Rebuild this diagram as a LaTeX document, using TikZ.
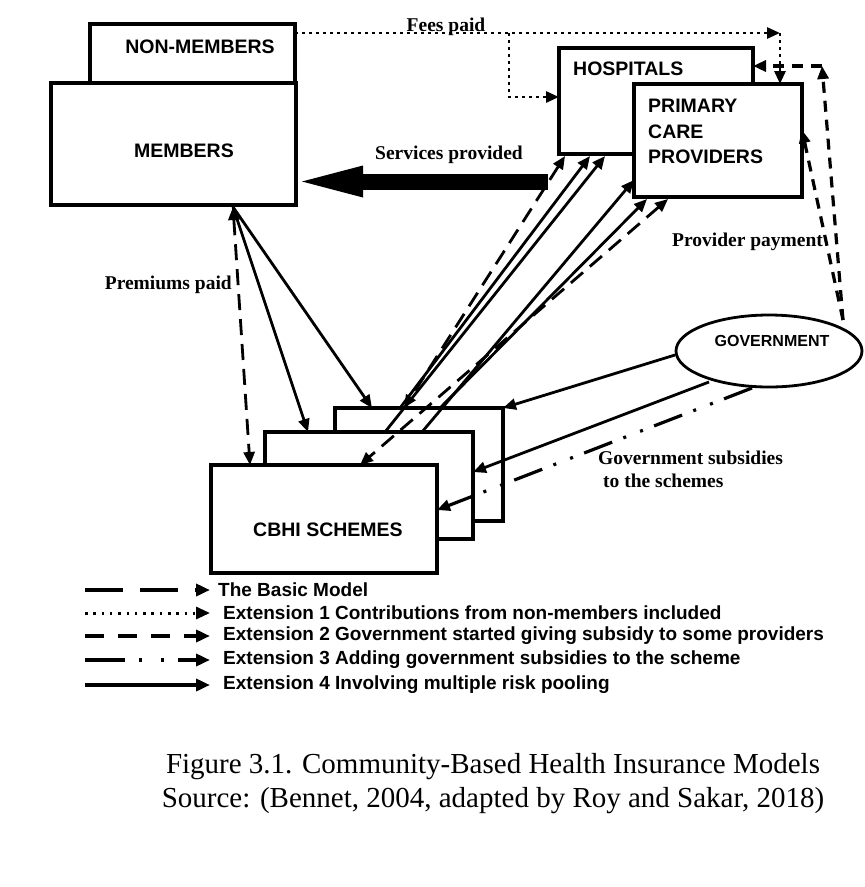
\documentclass[tikz,border=0pt]{standalone}
\usepackage{fontspec}
\setmainfont{Liberation Serif}
\setsansfont{Liberation Sans}
\usetikzlibrary{positioning}
\usetikzlibrary{calc,arrows.meta}
\usetikzlibrary{shapes.geometric}

\tikzset{
	box/.style={draw, line width=3.2pt, fill=white, inner sep=0pt},
	boxlabel/.style={font=\sffamily\bfseries\fontsize{19.5}{25.5}\selectfont, inner sep=0pt},
	flowlabel/.style={font=\bfseries\fontsize{19.5}{23}\selectfont, inner sep=0pt},
	keylabel/.style={font=\sffamily\bfseries\fontsize{19}{22}\selectfont, inner sep=0pt, anchor=west},
	captext/.style={font=\fontsize{29}{34}\selectfont, inner sep=0pt},
	tip/.style={-{Triangle[length=13pt,width=11pt]}},
	tips/.style={{Triangle[length=13pt,width=11pt]}-{Triangle[length=13pt,width=11pt]}},
	keytip/.style={-{Triangle[length=14pt,width=12pt]}},
	basic/.style={line width=2.8pt, dash pattern=on 16pt off 9pt},
	extone/.style={line width=2.8pt, dash pattern=on 2.5pt off 4.5pt},
	exttwo/.style={line width=3.2pt, dash pattern=on 11pt off 8pt},
	extthree/.style={line width=3.2pt, dash pattern=on 30pt off 12pt on 3pt off 15pt on 3pt off 12pt},
	extfour/.style={line width=2.8pt},
}

\begin{document}
\begin{tikzpicture}[x=1pt, y=-1pt]
	\useasboundingbox (0,0) rectangle (865,887);
	
	% ---------------------
	% Members & non-members
	\node[box, minimum width=205pt, minimum height=59pt] (NonMembers) at (192.5,53.5) {};
	\node[boxlabel] (NonMembersText) at (200,47) {NON-MEMBERS};
	\node[box, minimum width=245pt, minimum height=122pt] (Members) at (173.5,144) {};
	\node[boxlabel] (MembersText) at (184,151) {MEMBERS};
	
	% ---------------------
	% Providers
	\node[box, minimum width=194pt, minimum height=106pt] (Hospitals) at (656,101) {};
	\node[boxlabel, anchor=west] (HospitalsText) at (573,69) {HOSPITALS};
	\node[box, minimum width=168pt, minimum height=113pt] (Primary) at (718,140.5) {};
	\node[boxlabel, anchor=west, align=left] (PrimaryText) at (648,131.5) {PRIMARY\\CARE\\PROVIDERS};
	
	% ---------------------
	% Government
	\node[draw, line width=2.8pt, ellipse, fill=white, minimum width=186pt, minimum height=72pt] (Government) at (769,351) {};
	\node[boxlabel, font=\sffamily\bfseries\fontsize{16}{19}\selectfont] (GovernmentText) at (772,341) {GOVERNMENT};
	
	% ---------------------
	% CBHI schemes (stacked)
	\node[box, minimum width=168pt, minimum height=113pt] (SchemeBack) at (419,464.5) {};
	\node[box, minimum width=208pt, minimum height=107pt] (SchemeMid) at (369,485.5) {};
	\node[box, minimum width=226pt, minimum height=108pt] (SchemeFront) at (324,519) {};
	\node[boxlabel] (SchemeText) at (328,530) {CBHI SCHEMES};
	
	% ---------------------
	% Attachment points
	\coordinate (MemBottom) at (233,207);
	\coordinate (FrontTopA) at (250,465);
	\coordinate (MidTopA) at (308,432);
	\coordinate (BackTopA) at (372,408);
	
	\coordinate (HospBotA) at (565,156);
	\coordinate (HospBotB) at (590,156);
	\coordinate (HospBotC) at (605,156);
	\coordinate (PrimLeft) at (634,180);
	\coordinate (PrimBotA) at (647,199);
	\coordinate (PrimBotB) at (668,199);
	
	\coordinate (BackTopB) at (404,408);
	\coordinate (BackTopC) at (400,408);
	\coordinate (MidTopB) at (385,432);
	\coordinate (MidTopC) at (422,432);
	\coordinate (BackTopD) at (440,408);
	\coordinate (FrontTopB) at (360,465);
	
	\coordinate (GovLeft) at (675,355);
	\coordinate (GovBotA) at (709,382);
	\coordinate (GovBotB) at (752,388);
	\coordinate (GovTop) at (843,320);
	\coordinate (BackRight) at (503,408);
	\coordinate (MidRight) at (473,472);
	\coordinate (FrontRight) at (437,510);
	\coordinate (PrimRight) at (802,130);
	\coordinate (Corner) at (822,66);
	\coordinate (HospRight) at (753,66);
	
	\coordinate (FeeStart) at (295,33);
	\coordinate (FeeSplit) at (509,33);
	\coordinate (FeeBend) at (509,97);
	\coordinate (FeeEnd) at (780,33);
	\coordinate (HospLeft) at (559,97);
	\coordinate (PrimTop) at (780,84);
	
	\coordinate (ServStart) at (548,181.5);
	\coordinate (ServEnd) at (302,181.5);
	
	% ---------------------
	% Flows
	\draw[line width=16pt, -{Triangle[length=61pt,width=32pt,line width=0pt]}] (ServStart) -- (ServEnd);
	
	\draw[extone, tip] (FeeStart) -- (FeeEnd);
	\draw[extone, tip] (FeeSplit) -- (FeeBend) -- (HospLeft);
	\draw[extone, tip] (FeeEnd) -- (PrimTop);
	
	\draw[basic, tips] (MemBottom) -- (FrontTopA);
	\draw[extfour, tip] (MemBottom) -- (MidTopA);
	\draw[extfour, tip] (MemBottom) -- (BackTopA);
	
	\draw[basic, tips] (HospBotA) -- (BackTopB);
	\draw[basic, tips] (PrimBotB) -- (FrontTopB);
	\draw[extfour, tip] (BackTopC) -- (HospBotB);
	\draw[extfour, tip] (MidTopB) -- (HospBotC);
	\draw[extfour, tip] (MidTopC) -- (PrimLeft);
	\draw[extfour, tip] (BackTopD) -- (PrimBotA);
	
	\draw[extfour, tip] (GovLeft) -- (BackRight);
	\draw[extfour, tip] (GovBotA) -- (MidRight);
	\draw[extthree, tip] (GovBotB) -- (FrontRight);
	
	\draw[exttwo, tip] (GovTop) -- (PrimRight);
	\draw[exttwo, tip] (GovTop) -- (Corner);
	\draw[exttwo, tip] (Corner) -- (HospRight);
	
	% ---------------------
	% Flow labels
	\node[flowlabel, anchor=base] (FeesLabel) at (446,31) {Fees paid};
	\node[flowlabel] (ServLabel) at (449,155) {Services provided};
	\node[flowlabel, anchor=east] (PremLabel) at (232,285) {Premiums paid};
	\node[flowlabel, anchor=west] (ProvLabel) at (672,242) {Provider payment};
	\node[flowlabel, anchor=west, align=left] (SubsLabel) at (598,469.5) {Government subsidies\\\hspace{5pt}to the schemes};
	
	% ---------------------
	% Key
	\coordinate (KeyA) at (85,590);   \coordinate (KeyAEnd) at (210,590);
	\coordinate (KeyB) at (85,613);   \coordinate (KeyBEnd) at (210,613);
	\coordinate (KeyC) at (85,636);   \coordinate (KeyCEnd) at (210,636);
	\coordinate (KeyD) at (85,660);   \coordinate (KeyDEnd) at (210,660);
	\coordinate (KeyE) at (85,685);   \coordinate (KeyEEnd) at (210,685);
	
	\draw[line width=3.5pt, dash pattern=on 38pt off 17pt, keytip] (KeyA) -- (KeyAEnd);
	\draw[line width=3pt, dash pattern=on 2.5pt off 5.8pt, keytip] (KeyB) -- (KeyBEnd);
	\draw[line width=3.5pt, dash pattern=on 19pt off 14pt, keytip] (KeyC) -- (KeyCEnd);
	\draw[line width=3.5pt, dash pattern=on 40pt off 14pt on 3pt off 19pt on 3pt off 14pt, keytip] (KeyD) -- (KeyDEnd);
	\draw[line width=3.5pt, keytip] (KeyE) -- (KeyEEnd);
	
	\node[keylabel] (KeyAText) at (218,590) {The Basic Model};
	\node[keylabel] (KeyBText) at (223,613) {Extension 1 Contributions from non-members included};
	\node[keylabel] (KeyCText) at (223,636) {Extension 2 Government started giving subsidy to some providers};
	\node[keylabel] (KeyDText) at (223,660) {Extension 3 Adding government subsidies to the scheme};
	\node[keylabel] (KeyEText) at (223,685) {Extension 4 Involving multiple risk pooling};
	
	% ---------------------
	% Caption
	\node[captext] (Caption) at (493,767) {Figure 3.1. Community-Based Health Insurance Models};
	\node[captext] (Source) at (493,801) {Source: (Bennet, 2004, adapted by Roy and Sakar, 2018)};
	
\end{tikzpicture}
\end{document}
